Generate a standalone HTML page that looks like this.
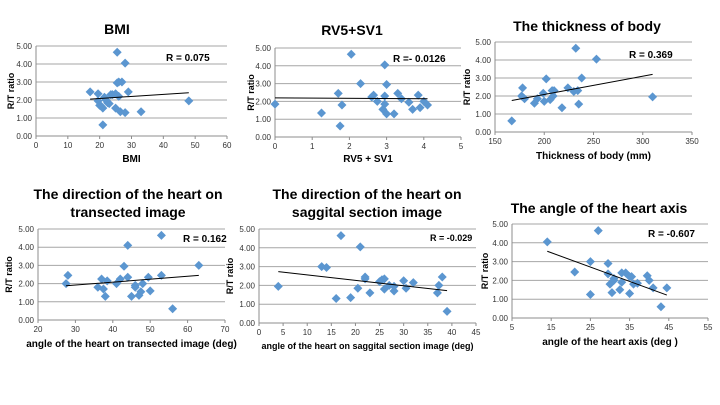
<!DOCTYPE html>
<html><head><meta charset="utf-8">
<style>
html,body{margin:0;padding:0;background:#fff;}
svg{display:block;font-family:"Liberation Sans",Arial,sans-serif;}
</style></head>
<body>
<svg id="c" width="720" height="405" viewBox="0 0 720 405" xmlns="http://www.w3.org/2000/svg"></svg>
<script>
// ---- data ----
const bmiX = [17,19.5,19.5,20,20.5,21,21,21.5,22,22.5,23,23.5,24,25,25,25.5,25.5,26,26,26.5,27,28,28,29,33,48];
const bmiY = [2.45,2.35,1.95,1.7,1.65,0.62,1.55,2.15,2.0,1.85,1.8,2.3,2.3,1.55,2.35,4.65,2.95,3.0,2.2,1.35,3.0,1.3,4.05,2.45,1.35,1.95];
const bmiTrend = [[17,2.05],[48,2.4]];
const rvX = [0,1.25,1.7,1.8,1.75,2.05,2.3,2.6,2.65,2.75,2.9,2.95,2.95,2.95,3.0,3.0,3.2,3.3,3.4,3.6,3.7,3.85,3.9,4.0,4.1];
const rvY = [1.85,1.35,2.45,1.8,0.62,4.65,3.0,2.25,2.35,2.0,1.55,1.85,2.3,4.05,2.95,1.3,1.3,2.45,2.15,1.95,1.55,2.35,1.65,2.0,1.8];
const rvTrend = [[0,2.2],[4.1,2.15]];
const thX = [167,177,178,180,190,193,199,200,202,206,208,209,210,218,224,230,232,234,235,238,253,310];
const thY = [0.62,2.0,2.45,1.85,1.6,1.85,2.15,1.7,2.95,1.8,2.3,2.0,2.3,1.35,2.45,2.25,4.65,2.3,1.55,3.0,4.05,1.95];
const thTrend = [[167,1.75],[310,3.2]];
const trX = [27.5,28,36,37,37.5,38,38.5,41,42,43,44,44,45,46,46,47,47.5,48,49.5,50,53,53,56,63];
const trY = [2.0,2.45,1.8,2.25,1.7,1.3,2.15,2.0,2.25,2.95,2.35,4.1,1.3,1.9,1.8,1.35,1.55,2.0,2.35,1.6,2.45,4.65,0.62,3.0];
const trTrend = [[27.5,1.88],[63,2.45]];
const sgX = [4,13,14,16,17,19,20.5,21,22,22,23,25,25.5,26,26,27,28,28,30,30.5,32,37,37.3,38,39];
const sgY = [1.95,3.0,2.95,1.3,4.65,1.35,1.85,4.05,2.45,2.35,1.6,2.2,2.3,2.35,1.8,2.0,1.7,1.95,2.25,1.85,2.15,1.6,2.0,2.45,0.62];
const sgTrend = [[4,2.73],[39,1.72]];
const axX = [14,21,25,25,27,29.5,29.5,30,30.5,31,31,32.5,33,33,34,35,35,35.5,36,37,39.5,40,41,43,44.5];
const axY = [4.05,2.45,1.25,3.0,4.65,2.9,2.35,1.8,1.35,2.0,2.1,1.5,2.4,1.9,2.4,2.2,1.3,2.2,1.8,1.85,2.25,2.0,1.6,0.6,1.6];
const axTrend = [[14,3.55],[44.5,1.22]];
const yTicks = ["0.00","1.00","2.00","3.00","4.00","5.00"];
const bmiTicks = [0,10,20,30,40,50,60];
const rvTicks = [0,1,2,3,4,5];
const thTicks = [150,200,250,300,350];
const trTicks = [20,30,40,50,60,70];
const sgTicks = [0,5,10,15,20,25,30,35,40,45];
const axTicks = [5,15,25,35,45,55];

const svg = document.getElementById('c');
const NS = 'http://www.w3.org/2000/svg';
function mk(tag, attrs, parent){const e=document.createElementNS(NS,tag);for(const k in attrs)e.setAttribute(k,attrs[k]);(parent||svg).appendChild(e);return e;}
function txt(s, attrs, parent){const e=mk('text',attrs,parent);e.textContent=s;return e;}

const panels = [
 {id:'bmi',title:['BMI'],ty:[34],tcx:117,x0:36,x1:227,y5:46,y0:136,xmin:0,xmax:60,ticks:bmiTicks,xs:bmiX,ys:bmiY,tr:bmiTrend,xl:'BMI',xly:162,r:'R = 0.075',rx:166,ry:61,ylx:14,rs:10},
 {id:'rv',title:['RV5+SV1'],ty:[35],tcx:352,x0:275,x1:461,y5:48,y0:137,xmin:0,xmax:5,ticks:rvTicks,xs:rvX,ys:rvY,tr:rvTrend,xl:'RV5 + SV1',xly:162,r:'R =- 0.0126',rx:393,ry:62,ylx:254,rs:10},
 {id:'thick',title:['The thickness of body'],ty:[31],tcx:587,x0:495,x1:692,y5:42,y0:132,xmin:150,xmax:350,ticks:thTicks,xs:thX,ys:thY,tr:thTrend,xl:'Thickness of body (mm)',xly:159,r:'R = 0.369',rx:629,ry:58,ylx:470,rs:10},
 {id:'trans',title:['The direction of the heart on','transected image'],ty:[199,217],tcx:128,x0:38,x1:225,y5:229,y0:320,xmin:20,xmax:70,ticks:trTicks,xs:trX,ys:trY,tr:trTrend,xl:'angle of the heart on transected image (deg)',xly:347,r:'R = 0.162',rx:183,ry:242,ylx:12,rs:10},
 {id:'sag',title:['The direction of the heart on','saggital section image'],ty:[199,217],tcx:367,x0:259,x1:476,y5:229,y0:323,xmin:0,xmax:45,ticks:sgTicks,xs:sgX,ys:sgY,tr:sgTrend,xl:'angle of the heart on saggital section image (deg)',xly:349,r:'R = -0.029',rx:430,ry:241,ylx:233,rs:9},
 {id:'axis',title:['The angle of the heart axis'],ty:[213],tcx:599,x0:512,x1:708,y5:224,y0:318,xmin:5,xmax:55,ticks:axTicks,xs:axX,ys:axY,tr:axTrend,xl:'angle of the heart axis (deg )',xly:345,r:'R = -0.607',rx:648,ry:237,ylx:488,rs:10}
];

panels.forEach(p=>{
  const g = mk('g',{});
  
  
  const sx = v => p.x0 + (v-p.xmin)/(p.xmax-p.xmin)*(p.x1-p.x0);
  const sy = v => p.y0 - v/5*(p.y0-p.y5);
  p.title.forEach((t,i)=>{
    const e = txt(t,{x:p.tcx,y:p.ty[i],'text-anchor':'middle','font-size':'14','font-weight':'bold',fill:'#000'},g);
    
    
  });
  yTicks.forEach((lab,i)=>{
    const y = sy(+lab);
    const l = mk('line',{x1:p.x0,x2:p.x1,y1:y,y2:y,stroke:i===0?'#8c8c8c':'#a6a6a6','stroke-width':1},g);
    
    
    const t = txt(lab,{x:p.x0-4,y:y+3,'text-anchor':'end','font-size':'8',fill:'#333'},g);
    
    
  });
  const ax = mk('line',{x1:p.x0,x2:p.x0,y1:p.y5,y2:p.y0,stroke:'#8c8c8c','stroke-width':1},g);
  
  
  p.ticks.forEach(v=>{
    const x = sx(v);
    mk('line',{x1:x,x2:x,y1:p.y0,y2:p.y0+3,stroke:'#8c8c8c'},g);
    const t = txt(String(v),{x:x,y:p.y0+12,'text-anchor':'middle','font-size':'8',fill:'#333'},g);
    
    
  });
  const xl = txt(p.xl,{x:(p.x0+p.x1)/2,y:p.xly,'text-anchor':'middle','font-size':p.rs,'font-weight':'bold',fill:'#000'},g);
  
  
  const yc = (p.y0+p.y5)/2;
  const yl = txt('R/T ratio',{x:p.ylx,y:yc,'text-anchor':'middle','font-size':'9','font-weight':'bold',fill:'#000',transform:'rotate(-90 '+p.ylx+' '+yc+')'},g);
  
  
  p.xs.forEach((xv,i)=>{
    const cx = sx(xv), cy = sy(p.ys[i]), r = 4.5;
    const d = mk('polygon',{points:`${cx},${cy-r} ${cx+r},${cy} ${cx},${cy+r} ${cx-r},${cy}`,fill:'#5b96d0'},g);
    
    
  });
  const tl = mk('line',{x1:sx(p.tr[0][0]),y1:sy(p.tr[0][1]),x2:sx(p.tr[1][0]),y2:sy(p.tr[1][1]),stroke:'#000','stroke-width':1},g);
  
  
  const rt = txt(p.r,{x:p.rx,y:p.ry,'text-anchor':'start','font-size':p.rs,'font-weight':'bold',fill:'#000'},g);
  
  
});
</script>
</body></html>
